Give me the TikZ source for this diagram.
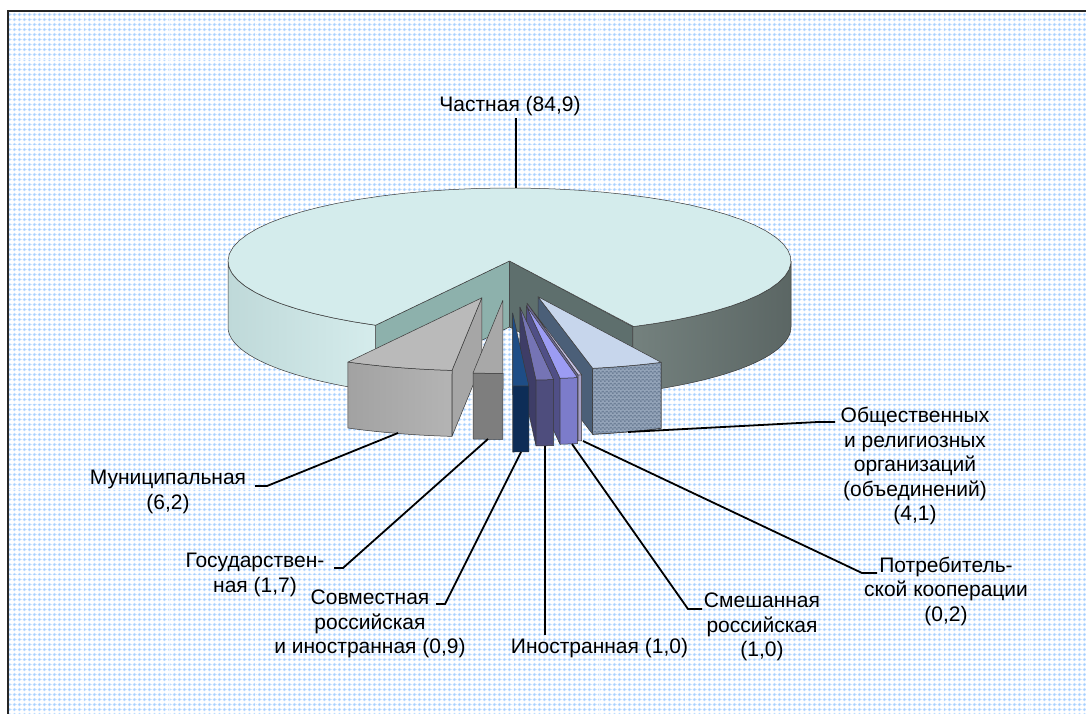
\documentclass[tikz,border=0pt]{standalone}
\usepackage{fontspec}
\setmainfont{Liberation Sans}
\usetikzlibrary{patterns.meta}

\definecolor{dotblue}{HTML}{A6CFFF}
\definecolor{dothalo}{HTML}{D6EAFF}
\definecolor{edgec}{HTML}{3A3A3A}
\definecolor{checkdark}{HTML}{6E8098}

\tikzdeclarepattern{
  name=bgdots, type=colored,
  bottom left={(-2.7pt,-2.7pt)}, top right={(2.7pt,2.7pt)},
  tile size={(5.4pt,5.4pt)},
  code={\fill[dothalo] (0pt,0pt) circle[radius=2.1pt]; \fill[dotblue] (0pt,0pt) circle[radius=1.3pt];}
}
\tikzdeclarepattern{
  name=smallchecker, type=colored,
  bottom left={(0pt,0pt)}, top right={(4pt,4pt)},
  tile size={(4pt,4pt)},
  code={\fill[checkdark] (0pt,0pt) rectangle (2pt,2pt); \fill[checkdark] (2pt,2pt) rectangle (4pt,4pt);}
}

% top face: apex (#1,#2), angles #3 -> #4, style #5
\newcommand{\pieTop}[5]{%
  \path[#5] (#1,#2) -- plot[domain=0:1,samples=60] ({#1+281.5*cos(#3+(#4-#3)*\x)},{#2+73*sin(#3+(#4-#3)*\x)}) -- cycle;}
% outer wall between angles #3 and #4
\newcommand{\pieWall}[5]{%
  \path[#5] plot[domain=0:1,samples=40] ({#1+281.5*cos(#3+(#4-#3)*\x)},{#2+73*sin(#3+(#4-#3)*\x)})
   -- plot[domain=0:1,samples=40] ({#1+281.5*cos(#4+(#3-#4)*\x)},{#2+66+73*sin(#4+(#3-#4)*\x)}) -- cycle;}
% cut face at angle #3
\newcommand{\pieCut}[4]{%
  \path[#4] (#1,#2) -- ({#1+281.5*cos(#3)},{#2+73*sin(#3)}) -- ({#1+281.5*cos(#3)},{#2+66+73*sin(#3)}) -- ({#1},{#2+66}) -- cycle;}

\begin{document}
\begin{tikzpicture}[x=1pt,y=-1pt,
  face/.style={draw=edgec,line width=0.5pt,line join=round},
  leader/.style={draw=black,line width=1.8pt},
  lbl/.style={align=center,inner sep=0pt,font=\fontsize{21pt}{24.5pt}\selectfont},
  gridw/.style={draw=white,line width=0.9pt,opacity=0.75},
  frameline/.style={draw=black!85,line width=1.6pt}]
\useasboundingbox (0,0) rectangle (1086,714);
\fill[white] (0,0) rectangle (1086,714);
\fill[pattern=bgdots] (8,11) rectangle (1086,714);
\foreach \gx in {83,169,255,341,427,513,599,685,771,857,943,1029}
  \draw[gridw] (\gx,11) -- (\gx,714);
\foreach \gy in {59,145,231,317,403,489,575,661}
  \draw[gridw] (8,\gy) -- (1086,\gy);
\draw[frameline] (8,714) -- (8,11) -- (1086,11);

% ---- main slice (Частная)
\pieCut{509.5}{261}{118.4}{face,fill={rgb,255:red,141;green,177;blue,172}}
\pieCut{509.5}{261}{64.04}{face,fill={rgb,255:red,94;green,111;blue,109}}
\pieWall{509.5}{261}{118.4}{180}{face,left color={rgb,255:red,191;green,217;blue,217},right color={rgb,255:red,213;green,236;blue,236}}
\pieWall{509.5}{261}{0}{64.04}{face,left color={rgb,255:red,116;green,129;blue,126},right color={rgb,255:red,91;green,102;blue,100}}
\pieTop{509.5}{261}{118.4}{424.04}{face,fill={rgb,255:red,212;green,236;blue,236}}

% ---- Муниципальная
\pieCut{481.8}{297.8}{96.08}{face,fill={rgb,255:red,166;green,166;blue,166}}
\pieWall{481.8}{297.8}{96.08}{118.4}{face,left color={rgb,255:red,162;green,162;blue,162},right color={rgb,255:red,180;green,180;blue,180}}
\pieTop{481.8}{297.8}{96.08}{118.4}{face,fill={rgb,255:red,186;green,186;blue,186}}

% ---- Общественных
\pieCut{538}{296.7}{78.8}{face,fill={rgb,255:red,75;green,95;blue,120}}
\pieWall{538}{296.7}{64.04}{78.8}{face,fill={rgb,255:red,148;green,164;blue,185}}
\pieWall{538}{296.7}{64.04}{78.8}{pattern=smallchecker}
\pieWall{538}{296.7}{64.04}{78.8}{draw=edgec,line width=0.5pt}
\pieTop{538}{296.7}{64.04}{78.8}{face,fill={rgb,255:red,199;green,214;blue,236}}

% ---- Государственная
\pieWall{502.8}{300.4}{89.96}{96.08}{face,fill={rgb,255:red,126;green,126;blue,126}}
\pieTop{502.8}{300.4}{89.96}{96.08}{face,fill={rgb,255:red,168;green,168;blue,168}}

% ---- Потребительской кооперации
\pieCut{527}{303.2}{79.52}{face,fill={rgb,255:red,107;green,103;blue,144}}
\pieWall{527}{303.2}{78.8}{79.52}{face,fill={rgb,255:red,165;green,159;blue,198}}
\pieTop{527}{303.2}{78.8}{79.52}{face,fill={rgb,255:red,197;green,193;blue,228}}

% ---- Смешанная российская
\pieCut{526.3}{305.8}{83.12}{face,fill={rgb,255:red,80;green,79;blue,134}}
\pieWall{526.3}{305.8}{79.52}{83.12}{face,fill={rgb,255:red,124;green,124;blue,202}}
\pieTop{526.3}{305.8}{79.52}{83.12}{face,fill={rgb,255:red,156;green,156;blue,243}}

% ---- Иностранная
\pieCut{519.9}{307.1}{86.72}{face,fill={rgb,255:red,62;green,61;blue,103}}
\pieWall{519.9}{307.1}{83.12}{86.72}{face,fill={rgb,255:red,78;green,77;blue,125}}
\pieTop{519.9}{307.1}{83.12}{86.72}{face,fill={rgb,255:red,117;green,116;blue,181}}

% ---- Совместная
\pieCut{512.7}{313}{89.96}{face,fill={rgb,255:red,20;green,57;blue,95}}
\pieWall{512.7}{313}{86.72}{89.96}{face,fill={rgb,255:red,13;green,45;blue,87}}
\pieTop{512.7}{313}{86.72}{89.96}{face,fill={rgb,255:red,30;green,77;blue,134}}

% ---- labels
\node[lbl] (chast) at (510,106) {Частная (84,9)};
\node[lbl] (mun) at (168,492) {Муниципальная\\(6,2)};
\node[lbl] (gos) at (255,575) {Государствен-\\ная (1,7)};
\node[lbl] (sovm) at (370,624) {Совместная\\российская\\и иностранная (0,9)};
\node[lbl] (inostr) at (599.5,648) {Иностранная (1,0)};
\node[lbl] (smesh) at (762,627) {Смешанная\\российская\\(1,0)};
\node[lbl] (potr) at (946,591) {Потребитель-\\ской кооперации\\(0,2)};
\node[lbl] (obsh) at (915,466) {Общественных\\и религиозных\\организаций\\(объединений)\\(4,1)};

% ---- leader end points
\coordinate (chastP) at (516,188);
\coordinate (munA) at (255,486);  \coordinate (munP) at (398,433);
\coordinate (gosA) at (334,568);  \coordinate (gosP) at (488,439);
\coordinate (sovmA) at (436,604); \coordinate (sovmP) at (521,452);
\coordinate (inoA) at (544.7,635); \coordinate (inoP) at (544.7,446);
\coordinate (smA) at (702,609);   \coordinate (smP) at (572,444);
\coordinate (potA) at (877,573);  \coordinate (potP) at (583,441);
\coordinate (obA) at (835,422);   \coordinate (obP) at (628,432);

\draw[leader] ([yshift=-2pt]chast.south -| chastP) -- (chastP);
\draw[leader] (munA) -- ++(12,0) -- (munP);
\draw[leader] (gosA) -- ++(9,0) -- (gosP);
\draw[leader] (sovmA) -- ++(9,0) -- (sovmP);
\draw[leader] (inoA) -- (inoP);
\draw[leader] (smA) -- ++(-14,0) -- (smP);
\draw[leader] (potA) -- ++(-15,0) -- (potP);
\draw[leader] (obA) -- ++(-17,0) -- (obP);
\end{tikzpicture}
\end{document}
